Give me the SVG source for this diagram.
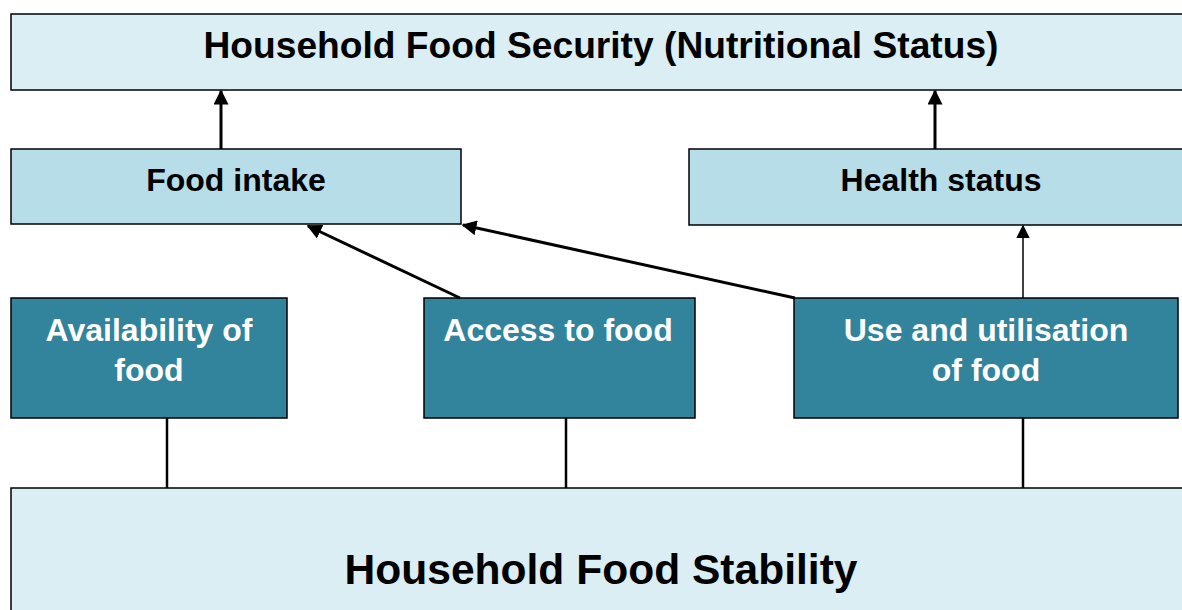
<svg xmlns="http://www.w3.org/2000/svg" width="1182" height="610" viewBox="0 0 1182 610">
<style>
.box{stroke:#000;stroke-width:1.5}
.pale{fill:#dbeef4}
.light{fill:#b7dde8}
.dark{fill:#31849b}
text{font-family:"Liberation Sans",Arial,sans-serif;font-weight:bold;text-anchor:middle}
.bk{fill:#000}
.wh{fill:#fff}
.conn{stroke:#000;fill:none}
</style>
<defs>
<marker id="ah" viewBox="0 0 10 10" refX="9" refY="5" markerWidth="5" markerHeight="5" orient="auto" markerUnits="strokeWidth">
<path d="M0,0 L10,5 L0,10 z" fill="#000"/>
</marker>
<marker id="ahThin" viewBox="0 0 10 10" refX="9" refY="5" markerWidth="9" markerHeight="9" orient="auto" markerUnits="strokeWidth">
<path d="M0,0 L10,5 L0,10 z" fill="#000"/>
</marker>
</defs>
<rect width="1182" height="610" fill="#fff"/>
<g id="security">
<rect class="box pale" x="11" y="14" width="1180" height="76"/>
<text class="bk" x="601" y="58" font-size="36" textLength="795" lengthAdjust="spacingAndGlyphs">Household Food Security (Nutritional Status)</text>
</g>
<g id="intake">
<rect class="box light" x="11" y="149" width="450" height="75"/>
<text class="bk" x="236" y="191" font-size="32">Food intake</text>
</g>
<g id="health">
<rect class="box light" x="689" y="149" width="500" height="76"/>
<text class="bk" x="941" y="191" font-size="32">Health status</text>
</g>
<g id="availability">
<rect class="box dark" x="11" y="298" width="276" height="120"/>
<text class="wh" x="149" y="341" font-size="32">Availability of</text>
<text class="wh" x="149" y="381" font-size="32">food</text>
</g>
<g id="access">
<rect class="box dark" x="424" y="298" width="271" height="120"/>
<text class="wh" x="558" y="341" font-size="32">Access to food</text>
</g>
<g id="use">
<rect class="box dark" x="794" y="298" width="384" height="120"/>
<text class="wh" x="986" y="341" font-size="32">Use and utilisation</text>
<text class="wh" x="986" y="381" font-size="32">of food</text>
</g>
<g id="stability">
<rect class="box pale" x="11" y="488" width="1180" height="140"/>
<text class="bk" x="601" y="584" font-size="42" textLength="513" lengthAdjust="spacingAndGlyphs">Household Food Stability</text>
</g>
<g id="connectors">
<line class="conn" x1="221" y1="149" x2="221" y2="91" stroke-width="3" marker-end="url(#ah)"/>
<line class="conn" x1="935" y1="149" x2="935" y2="91" stroke-width="3" marker-end="url(#ah)"/>
<line class="conn" x1="460" y1="298" x2="308" y2="226" stroke-width="3" marker-end="url(#ah)"/>
<line class="conn" x1="795" y1="298" x2="463" y2="225" stroke-width="3" marker-end="url(#ah)"/>
<line class="conn" x1="1023" y1="298" x2="1023" y2="226" stroke-width="1.5" marker-end="url(#ahThin)"/>
<line class="conn" x1="167" y1="418" x2="167" y2="488" stroke-width="2.5"/>
<line class="conn" x1="566" y1="418" x2="566" y2="488" stroke-width="2.5"/>
<line class="conn" x1="1023" y1="418" x2="1023" y2="488" stroke-width="2.5"/>
</g>
</svg>
